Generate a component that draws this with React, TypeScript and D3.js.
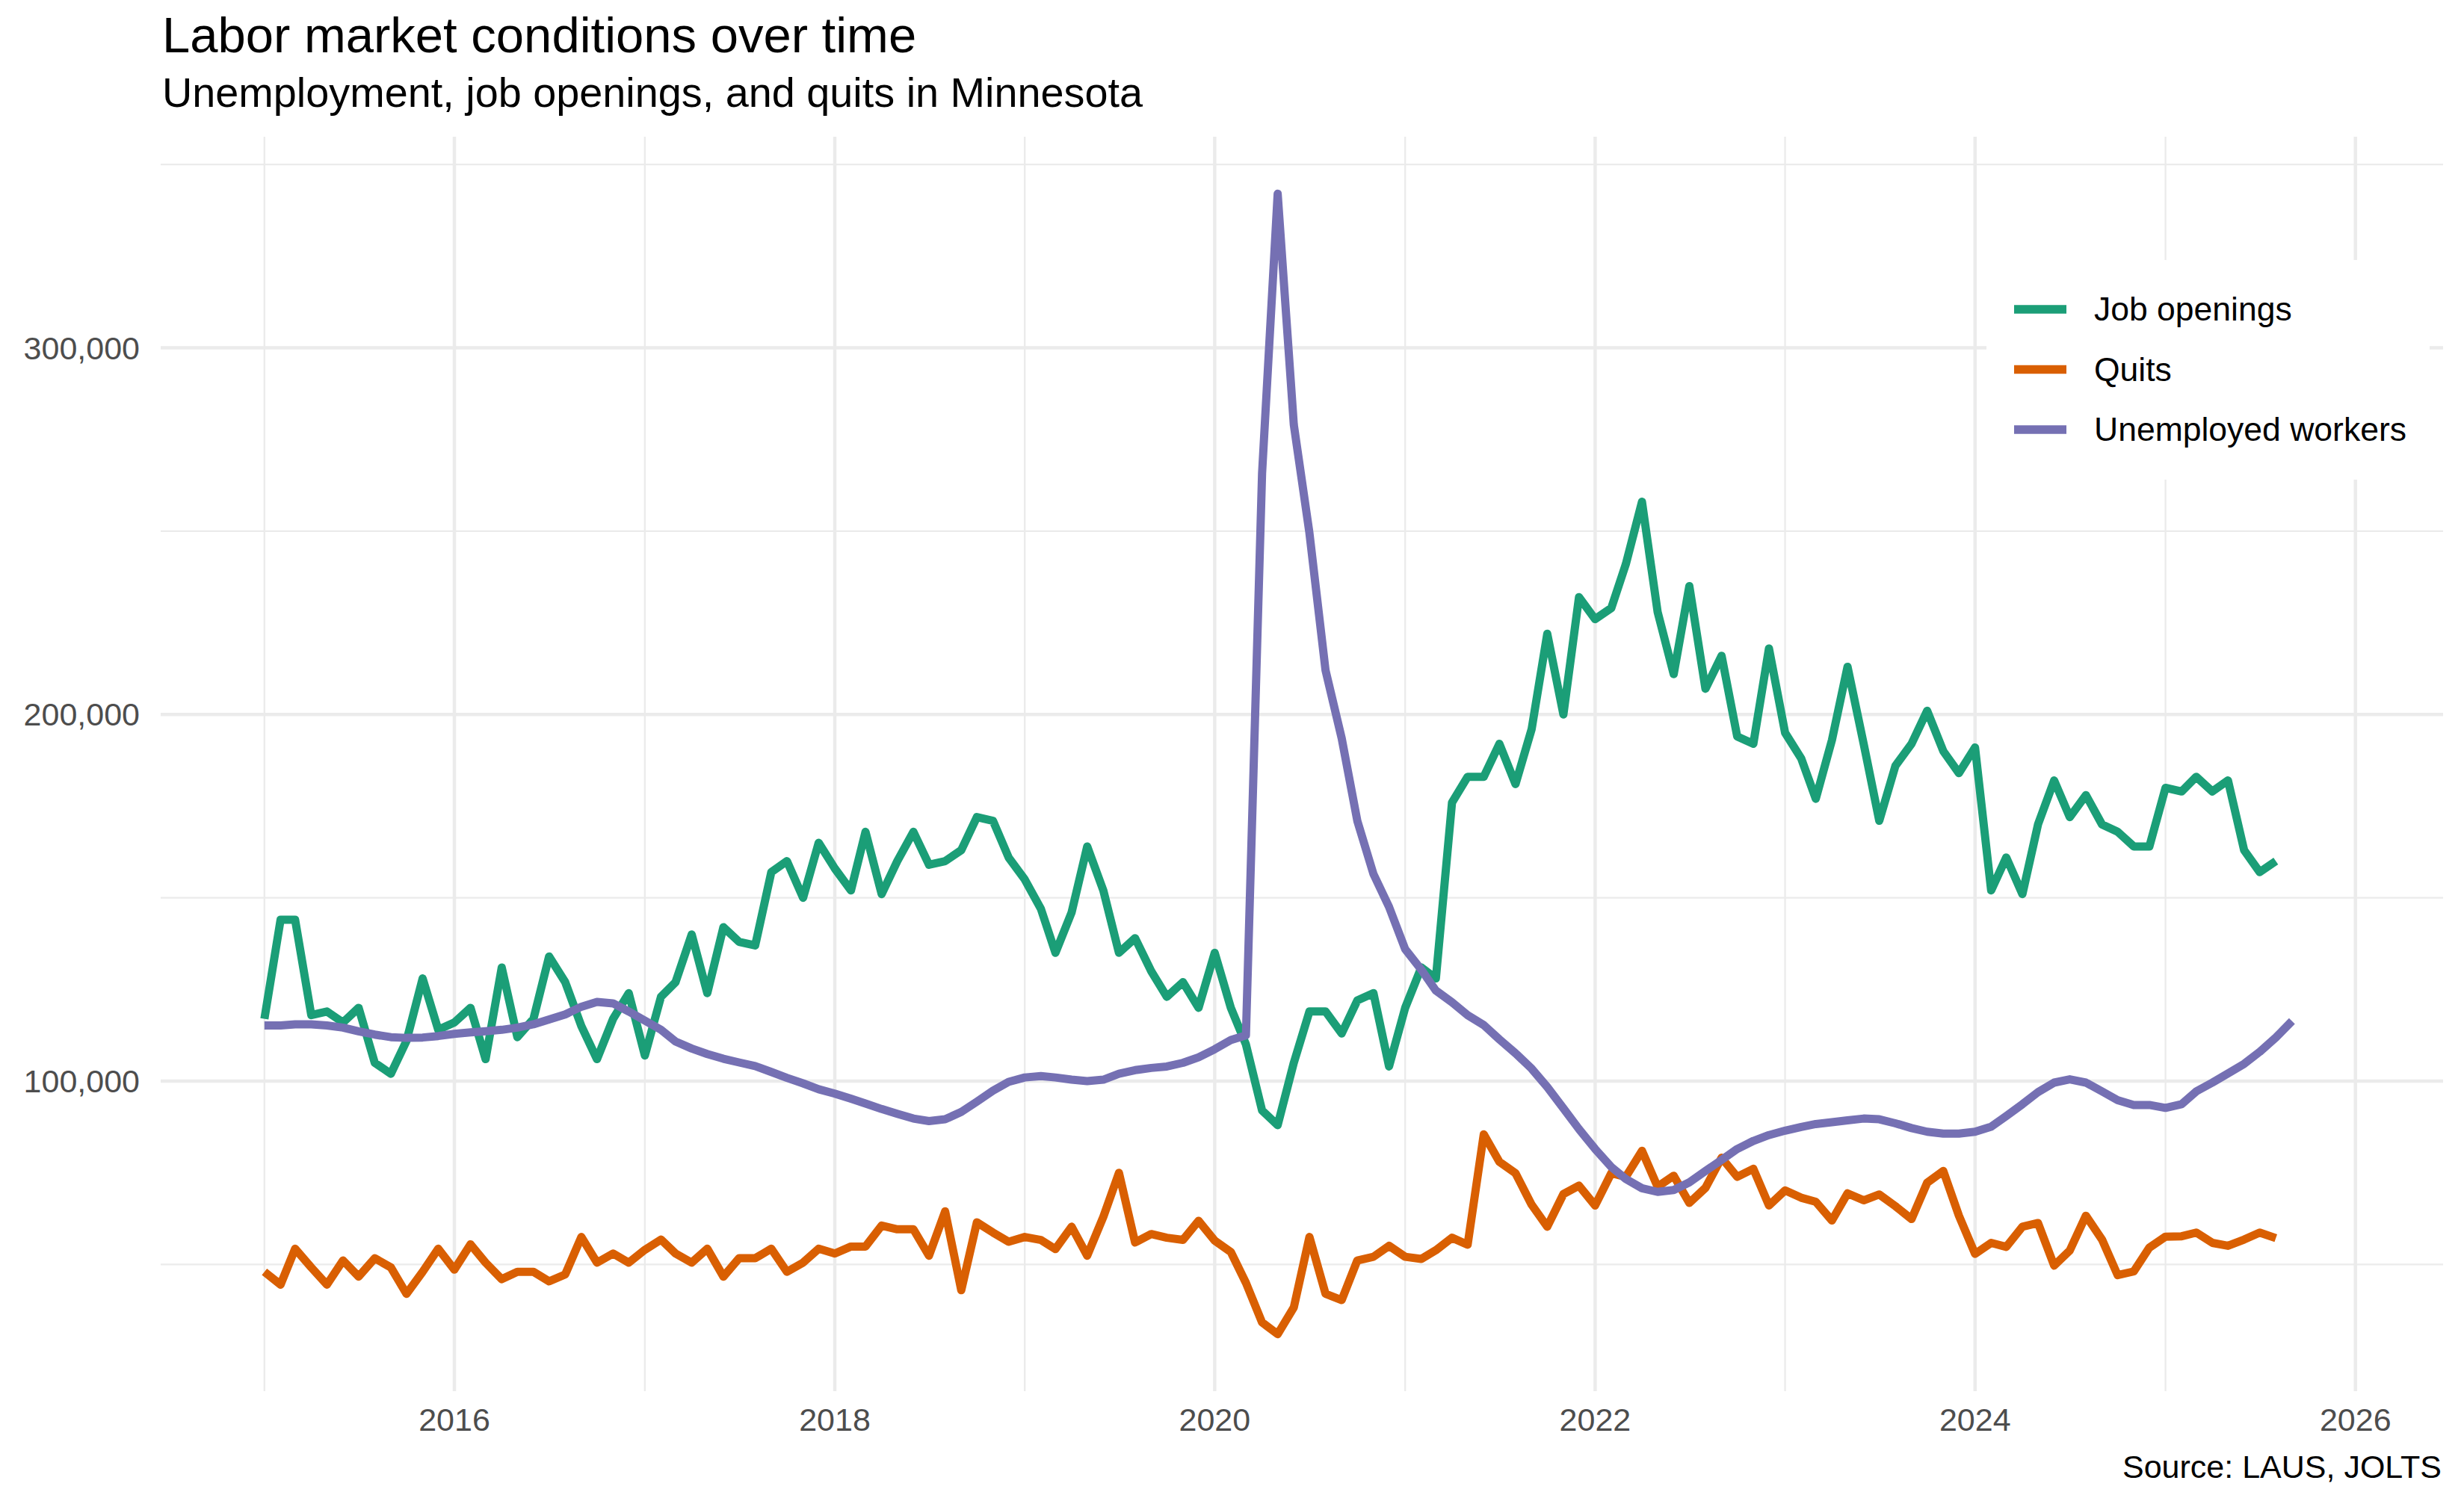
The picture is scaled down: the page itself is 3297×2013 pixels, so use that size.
import { useEffect, useRef } from "react"
import * as d3 from "d3"

const WIDTH = 3297
const HEIGHT = 2013

// Monthly series starting January 2015 (values in thousands)
const firstMonth = new Date(2015, 0, 1)
const lastPeriod = new Date(2025, 11, 1) // x limits run through Dec 2025

const jobOpenings = [
  117, 144, 144, 118, 119, 116, 120, 105, 102, 111, 128, 114,
  116, 120, 106, 131, 112, 117, 134, 127, 115, 106, 117, 124,
  107, 123, 127, 140, 124, 142, 138, 137, 157, 160, 150, 165,
  158, 152, 168, 151, 160, 168, 159, 160, 163, 172, 171, 161,
  155, 147, 135, 146, 164, 152, 135, 139, 130, 123, 127, 120,
  135, 120, 110, 92, 88, 105, 119, 119, 113, 122, 124, 104,
  120, 131, 128, 176, 183, 183, 192, 181, 196, 222, 200, 232,
  226, 229, 241, 258, 228, 211, 235, 207, 216, 194, 192, 218,
  195, 188, 177, 193, 213, 192, 171, 186, 192, 201, 190, 184,
  191, 152, 161, 151, 170, 182, 172, 178, 170, 168, 164, 164,
  180, 179, 183, 179, 182, 163, 157, 160,
]

const quits = [
  48, 44.5, 54.3, 49.2, 44.5, 51.1, 46.7, 51.7, 49.2, 42, 48, 54.3,
  48.6, 55.5, 50.5, 46, 48, 48, 45.4, 47.3, 57.5, 50.5, 53, 50.5,
  54, 56.8, 53, 50.5, 54.3, 46.7, 51.7, 51.7, 54.3, 48, 50.5, 54.3,
  53, 54.9, 54.9, 60.6, 59.6, 59.6, 52.4, 64.5, 43, 61.5, 58.7, 56.2,
  57.5, 56.7, 54.2, 60.3, 52.4, 63, 75, 56, 58.3, 57.3, 56.7, 61.9,
  56.5, 53.4, 45, 34.2, 31, 38.3, 57.5, 42, 40.3, 51.1, 52.1, 55.1,
  52.1, 51.5, 53.9, 57.3, 55.4, 85.5, 78, 74.9, 66.3, 60.3, 69.2, 71.5,
  66.1, 74.9, 73.9, 81, 71.2, 74.2, 66.8, 70.9, 79.1, 73.9, 76.1, 66.1,
  70.2, 68.2, 67.1, 62, 69.4, 67.5, 69.1, 65.9, 62.4, 72.3, 75.5, 63.3,
  52.9, 55.9, 54.8, 60.3, 61.3, 49.7, 53.8, 63.3, 56.8, 47.1, 48.1, 54.6,
  57.6, 57.7, 58.7, 55.9, 55.1, 56.8, 58.7, 57.2,
]

const unemployed = [
  115.2, 115.2, 115.5, 115.5, 115.2, 114.6, 113.6, 112.7, 112, 111.8, 111.9, 112.3,
  112.9, 113.3, 113.6, 114, 114.6, 115.5, 116.8, 118.2, 120.3, 121.6, 121.2, 119,
  116.5, 114, 110.8, 108.9, 107.4, 106.1, 105.1, 104.1, 102.5, 100.9, 99.4, 97.8,
  96.6, 95.2, 93.9, 92.4, 91.1, 89.8, 89.1, 89.6, 91.6, 94.4, 97.4, 99.8,
  101, 101.4, 101, 100.4, 100, 100.4, 102, 103, 103.6, 104, 105, 106.5,
  108.7, 111.2, 112.5, 265.7, 342, 279, 249.5, 212, 193.5, 171, 156.5, 147.5,
  136, 130.4, 124.7, 121.5, 118, 115.3, 111.4, 107.6, 103.4, 98.4, 92.6, 86.9,
  81.5, 76.6, 73.3, 70.8, 69.8, 70.3, 72.4, 75.5, 78.5, 81.5, 83.7, 85.3,
  86.5, 87.5, 88.3, 88.8, 89.3, 89.8, 89.6, 88.5, 87.2, 86.2, 85.7, 85.7,
  86.2, 87.6, 90.5, 93.7, 97, 99.6, 100.5, 99.6, 97.2, 94.8, 93.5, 93.5,
  92.7, 93.7, 97.2, 99.6, 102.1, 104.7, 108, 111.9, 116.4,
]

const seriesNames = ["Job openings", "Quits", "Unemployed workers"]
const seriesColors = ["#1b9e77", "#d95f02", "#7570b3"]
const yMajorTicks = [100000, 200000, 300000]
const yMinorTicks = [50000, 150000, 250000, 350000]
const xMajorYears = [2016, 2018, 2020, 2022, 2024, 2026]
const xMinorYears = [2015, 2017, 2019, 2021, 2023, 2025]

const FONT = "'Liberation Sans', Arial, Helvetica, sans-serif"

export default function App() {
  const svgRef = useRef<SVGSVGElement>(null)

  useEffect(() => {
    if (!svgRef.current) return
    const svg = d3.select(svgRef.current)
    svg.selectAll("*").remove()

    const panel = { left: 215, right: 3269, top: 183, bottom: 1862 }

    const toPoints = (vals: number[]) =>
      vals.map((v, i) => ({ date: d3.timeMonth.offset(firstMonth, i), value: v * 1000 }))
    const series = [jobOpenings, quits, unemployed].map((vals, i) => ({
      name: seriesNames[i],
      color: seriesColors[i],
      points: toPoints(vals),
    }))

    // ggplot-style 5% expansion on both axes
    const span = +lastPeriod - +firstMonth
    const x = d3
      .scaleTime()
      .domain([new Date(+firstMonth - span * 0.05), new Date(+lastPeriod + span * 0.05)])
      .range([panel.left, panel.right])

    const allValues = series.flatMap((s) => s.points.map((p) => p.value))
    const [lo, hi] = d3.extent(allValues) as [number, number]
    const pad = (hi - lo) * 0.05
    const y = d3.scaleLinear().domain([lo - pad, hi + pad]).range([panel.bottom, panel.top])

    svg.append("rect").attr("width", WIDTH).attr("height", HEIGHT).attr("fill", "#ffffff")

    // grid
    const grid = svg.append("g")
    yMinorTicks.forEach((t) => {
      grid.append("line")
        .attr("x1", panel.left).attr("x2", panel.right)
        .attr("y1", y(t)).attr("y2", y(t))
        .attr("stroke", "#ebebeb").attr("stroke-width", 2.3)
    })
    xMinorYears.forEach((yr) => {
      const xp = x(new Date(yr, 0, 1))
      grid.append("line")
        .attr("x1", xp).attr("x2", xp)
        .attr("y1", panel.top).attr("y2", panel.bottom)
        .attr("stroke", "#ebebeb").attr("stroke-width", 2.3)
    })
    yMajorTicks.forEach((t) => {
      grid.append("line")
        .attr("x1", panel.left).attr("x2", panel.right)
        .attr("y1", y(t)).attr("y2", y(t))
        .attr("stroke", "#ebebeb").attr("stroke-width", 4.5)
    })
    xMajorYears.forEach((yr) => {
      const xp = x(new Date(yr, 0, 1))
      grid.append("line")
        .attr("x1", xp).attr("x2", xp)
        .attr("y1", panel.top).attr("y2", panel.bottom)
        .attr("stroke", "#ebebeb").attr("stroke-width", 4.5)
    })

    // axis labels
    const fmt = d3.format(",")
    yMajorTicks.forEach((t) => {
      svg.append("text")
        .attr("x", 187).attr("y", y(t)).attr("dy", "0.35em")
        .attr("text-anchor", "end")
        .attr("font-family", FONT).attr("font-size", 43)
        .attr("fill", "#4d4d4d")
        .text(fmt(t))
    })
    xMajorYears.forEach((yr) => {
      svg.append("text")
        .attr("x", x(new Date(yr, 0, 1))).attr("y", 1915)
        .attr("text-anchor", "middle")
        .attr("font-family", FONT).attr("font-size", 43)
        .attr("fill", "#4d4d4d")
        .text(yr)
    })

    // lines
    const line = d3
      .line<{ date: Date; value: number }>()
      .x((d) => x(d.date))
      .y((d) => y(d.value))
    series.forEach((s) => {
      svg.append("path")
        .datum(s.points)
        .attr("d", line)
        .attr("fill", "none")
        .attr("stroke", s.color)
        .attr("stroke-width", 11)
        .attr("stroke-linejoin", "round")
        .attr("stroke-linecap", "butt")
    })

    // legend
    const legend = svg.append("g")
    legend.append("rect")
      .attr("x", 2658).attr("y", 348).attr("width", 593).attr("height", 294)
      .attr("fill", "#ffffff")
    series.forEach((s, i) => {
      const ly = 414 + i * 80.5
      legend.append("line")
        .attr("x1", 2695).attr("x2", 2765)
        .attr("y1", ly).attr("y2", ly)
        .attr("stroke", s.color).attr("stroke-width", 11.5)
      legend.append("text")
        .attr("x", 2802).attr("y", ly + 15)
        .attr("font-family", FONT).attr("font-size", 44.5)
        .attr("fill", "#000000")
        .text(s.name)
    })

    // titles
    svg.append("text")
      .attr("x", 217).attr("y", 70)
      .attr("font-family", FONT).attr("font-size", 67)
      .attr("fill", "#000000")
      .text("Labor market conditions over time")
    svg.append("text")
      .attr("x", 217).attr("y", 143)
      .attr("font-family", FONT).attr("font-size", 55.8)
      .attr("fill", "#000000")
      .text("Unemployment, job openings, and quits in Minnesota")
    svg.append("text")
      .attr("x", 3267).attr("y", 1978)
      .attr("text-anchor", "end")
      .attr("font-family", FONT).attr("font-size", 43)
      .attr("fill", "#000000")
      .text("Source: LAUS, JOLTS")
  }, [])

  return (
    <svg
      ref={svgRef}
      width={WIDTH}
      height={HEIGHT}
      style={{ position: "absolute", left: 0, top: 0, display: "block" }}
    />
  )
}
